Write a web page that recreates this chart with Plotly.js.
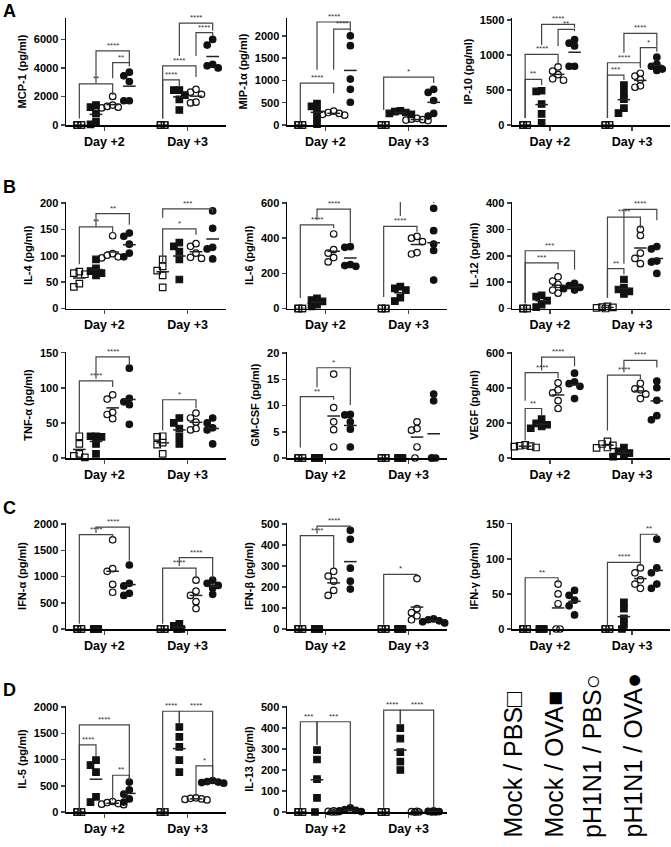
<!DOCTYPE html>
<html>
<head>
<meta charset="utf-8">
<script src="https://cdn.plot.ly/plotly-3.0.1.min.js"></script>
<style>
  body { margin: 0; background: #fff; }
  #chart { width: 671px; height: 847px; }
</style>
</head>
<body>
<div id="chart"></div>
<script>
// groups (same order on both days) and day ticks
const groupNames = ["Mock / PBS", "Mock / OVA", "pH1N1 / PBS", "pH1N1 / OVA"];
const dayLabels = ["Day +2", "Day +3"];

// values: 4 groups on day +2, then 4 groups on day +3
const mcp1 = [[0,0,0,0,0],[1400,1250,820,230,50],[2000,1400,1300,1250,1200],[3700,3450,3050,1700,1700],
              [0,0,0,0,0],[2450,2450,2100,1800,1050],[2500,2300,2150,1600,1550],[6000,5600,4250,4150,4000]];
const mip1a = [[0,0,0,0,0],[480,420,330,170,20],[310,280,260,240,220],[2000,1780,1030,800,510],
               [0,0,0,0,0],[320,300,280,260,240],[150,130,120,110,100],[800,730,550,260,200]];
const ip10 = [[0,0,0,0,0],[490,480,300,160,30],[830,770,720,660,640],[1220,1170,1130,840,840],
              [0,0,0,0,0],[570,460,370,240,170],[740,700,650,560,540],[970,870,840,800,780]];
const il4 = [[70,67,65,47,41],[93,76,71,67,63],[138,104,101,98,96],[143,137,122,105,98],
             [93,80,72,63,40],[125,118,108,93,55],[123,118,105,97,95],[185,152,116,113,94]];
const il6 = [[0,0,0,0,0],[58,48,40,22,12],[424,335,315,290,265],[352,348,250,244,240],
             [0,0,0,0,0],[124,115,105,62,42],[410,400,380,318,310],[570,443,367,330,162]];
const il12 = [[0,0,0,0,0],[50,45,30,15,5],[120,104,91,70,58],[95,87,80,75,70],
              [8,5,4,2,0],[110,78,72,65,55],[300,277,210,190,170],[235,226,180,176,133]];
const tnfa = [[31,20,6,3,1],[31,31,30,20,6],[90,84,65,62,56],[128,85,80,76,48],
              [31,30,22,19,6],[57,50,42,31,20],[64,57,51,42,40],[57,50,43,40,20]];
const gmcsf = [[0,0,0,0,0],[0,0,0,0,0],[16,9.6,6.9,5.4,2.1],[8.3,8.2,6.9,5.5,2.1],
               [0,0,0,0,0],[0,0,0,0,0],[6.9,5.6,5.3,2.1,0],[12.2,10.9,0,0,0]];
const vegf = [[75,70,68,65,60],[222,198,190,180,170],[430,390,372,328,283],[485,435,425,410,340],
              [95,80,72,60,58],[60,38,28,18,8],[427,395,390,365,340],[440,402,330,242,218]];
const ifna = [[0,0,0,0,0],[0,0,0,0,0],[1700,1150,1100,850,700],[1220,870,820,680,640],
              [0,0,0,0,0],[100,60,0,0,0],[930,720,640,520,390],[930,870,830,780,660]];
const ifnb = [[0,0,0,0,0],[0,0,0,0,0],[275,252,228,184,160],[470,427,290,228,190],
              [0,0,0,0,0],[0,0,0,0,0],[240,97,78,63,44],[48,44,39,34,29]];
const ifng = [[0,0,0,0,0],[0,0,0,0,0],[64,50,36,0,0],[55,48,41,33,20],
              [0,0,0,0,0],[38,29,15,6,0],[87,80,70,64,58],[128,87,80,64,58]];
const il5 = [[0,0,0,0,0],[990,895,760,290,190],[200,180,160,150,140],[570,420,340,250,190],
             [0,0,0,0,0],[1620,1430,1240,990,760],[270,260,250,240,230],[600,580,570,560,550]];
const il13 = [[0,0,0,0,0],[295,250,157,67,0],[5,3,2,0,0],[20,12,8,5,2],
              [0,0,0,0,0],[400,350,285,240,200],[3,2,0,0,0],[5,3,2,0,0]];

// significance brackets: [from group, to group, bar level, left leg end, right leg end, stars]
const mcp1Sig = [[1,3,2880,450,2100,"**"],[2,4,5200,2950,4330,"****"],[3,4,4370,3280,4100,"**"],
                 [6,8,4140,450,3370,"****"],[6,7,3160,450,2670,"****"],[7,9,7140,4840,6600,"****"],[8,9,6480,4840,6250,"****"]];
const mip1aSig = [[2,4,2310,1240,2160,"****"],[3,4,2150,1240,2100,"****"],[1,3,940,70,713,"****"],[6,9,1073,337,940,"*"]];
const ip10Sig = [[2,4,1439,1143,1390,"****"],[3,4,1367,1129,1340,"**"],[1,3,1010,100,857,"****"],[1,2,653,100,571,"**"],
                 [7,9,1310,1034,1120,"****"],[6,8,890,100,814,"****"],[8,9,1105,843,1048,"*"],[6,7,714,100,643,"***"]];
const il4Sig = [[1,3,155,84,144,"**"],[2,4,180,155,159,"**"],[6,9,189,172,182,"***"],[6,8,151,84,140,"*"]];
const il6Sig = [[2,4,565,504,375,"****"],[1,3,476,60,457,"****"],[7,9,618,527,600,"****"],[6,8,467,66,437,"****"]];
const il12Sig = [[1,4,219,20,147,"***"],[1,3,173,20,148,"***"],[6,8,347,41,304,"****"],[7,9,376,170,335,"****"],[6,7,151,41,129,"**"]];
const tnfaSig = [[1,3,110,35,101,"****"],[2,4,144,113,134,"****"],[6,8,83,39,71,"*"]];
const gmcsfSig = [[2,4,17.2,13.5,10.1,"*"],[1,3,11.7,2,11.1,"**"]];
const vegfSig = [[2,4,577,500,525,"****"],[1,3,488,327,456,"****"],[1,2,283,100,242,"**"],[7,9,558,490,517,"****"],[6,8,474,157,451,"****"]];
const ifnaSig = [[1,3,1800,100,1750,"****"],[2,4,1940,1830,1300,"****"],[6,8,1160,100,960,"****"],[7,9,1360,1200,960,"****"]];
const ifnbSig = [[1,3,445,20,290,"****"],[2,4,490,455,480,"****"],[6,8,260,20,250,"*"]];
const ifngSig = [[1,3,73,3,66,"**"],[6,8,95,3,90,"****"],[8,9,135,93,131,"**"]];
const il5Sig = [[1,4,1660,20,650,"****"],[1,2,1280,20,1050,"****"],[3,4,700,220,600,"**"],[6,7,1920,20,1700,"****"],[7,9,1920,1700,650,"****"],[8,9,880,300,650,"*"]];
const il13Sig = [[1,2,430,20,320,"***"],[2,4,430,320,30,"***"],[6,7,485,20,420,"****"],[7,9,485,420,20,"****"]];

const W = 671, H = 847;
const cols = [[66, 226], [287, 447], [512, 670]];
const rows = { A: [18, 125], B1: [202, 308.5], B2: [352, 458], C: [523, 629], D: [706, 812] };

const panels = [
  { title: "MCP-1 (pg/ml)", vals: mcp1, sig: mcp1Sig, ymax: 7500, dtick: 2000, col: 0, row: "A" },
  { title: "MIP-1α (pg/ml)", vals: mip1a, sig: mip1aSig, ymax: 2400, dtick: 500, col: 1, row: "A" },
  { title: "IP-10 (pg/ml)", vals: ip10, sig: ip10Sig, ymax: 1530, dtick: 500, col: 2, row: "A" },
  { title: "IL-4 (pg/ml)", vals: il4, sig: il4Sig, ymax: 202, dtick: 50, col: 0, row: "B1" },
  { title: "IL-6 (pg/ml)", vals: il6, sig: il6Sig, ymax: 606, dtick: 200, col: 1, row: "B1" },
  { title: "IL-12 (pg/ml)", vals: il12, sig: il12Sig, ymax: 404, dtick: 100, col: 2, row: "B1" },
  { title: "TNF-α (pg/ml)", vals: tnfa, sig: tnfaSig, ymax: 151, dtick: 50, col: 0, row: "B2" },
  { title: "GM-CSF (pg/ml)", vals: gmcsf, sig: gmcsfSig, ymax: 20.2, dtick: 5, col: 1, row: "B2" },
  { title: "VEGF (pg/ml)", vals: vegf, sig: vegfSig, ymax: 606, dtick: 200, col: 2, row: "B2" },
  { title: "IFN-α (pg/ml)", vals: ifna, sig: ifnaSig, ymax: 2020, dtick: 500, col: 0, row: "C" },
  { title: "IFN-β (pg/ml)", vals: ifnb, sig: ifnbSig, ymax: 505, dtick: 100, col: 1, row: "C" },
  { title: "IFN-γ (pg/ml)", vals: ifng, sig: ifngSig, ymax: 151, dtick: 50, col: 2, row: "C" },
  { title: "IL-5 (pg/ml)", vals: il5, sig: il5Sig, ymax: 2020, dtick: 500, col: 0, row: "D" },
  { title: "IL-13 (pg/ml)", vals: il13, sig: il13Sig, ymax: 505, dtick: 100, col: 1, row: "D" }
];

const groupX = [1, 2, 3, 4, 6, 7, 8, 9];
const symbols = ["square-open", "square", "circle-open", "circle"];
const FONT = "Arial, 'Liberation Sans', sans-serif";

// simple beeswarm: push a point sideways when it would sit on top of another
function swarm(vals, tol) {
  const placed = [];
  const steps = [0, -0.33, 0.33, -0.66, 0.66, -0.99, 0.99];
  return vals.map((v, k) => {
    if (v === 0) return k % 2 ? 0.12 : -0.12;
    for (const s of steps) {
      const hit = placed.some(p => Math.abs(p.v - v) < tol && Math.abs(p.dx - s) < 0.3);
      if (!hit) { placed.push({ v: v, dx: s }); return s; }
    }
    return 0;
  });
}

const data = [];
const annotations = [];
const layout = {
  width: W, height: H,
  margin: { l: 0, r: 0, t: 0, b: 0 },
  paper_bgcolor: "#fff", plot_bgcolor: "#fff",
  showlegend: false,
  font: { family: FONT, color: "#000" }
};

panels.forEach((p, i) => {
  const n = i + 1;
  const sfx = n === 1 ? "" : String(n);
  const xa = "x" + sfx, ya = "y" + sfx;
  const [top, bottom] = rows[p.row];
  const [left, right] = cols[p.col];
  const tol = 6 * p.ymax / (bottom - top);

  p.vals.forEach((vals, g) => {
    const offs = swarm(vals, tol);
    data.push({
      type: "scatter", mode: "markers", xaxis: xa, yaxis: ya,
      x: vals.map((v, k) => groupX[g] + offs[k]), y: vals,
      name: groupNames[g % 4], cliponaxis: false, hoverinfo: "skip",
      marker: { symbol: symbols[g % 4], size: 6.5, color: "#111", line: { width: 1.2, color: "#111" } }
    });
  });

  // mean lines
  const mx = [], my = [];
  p.vals.forEach((vals, g) => {
    const m = vals.reduce((a, b) => a + b, 0) / vals.length;
    mx.push(groupX[g] - 0.38, groupX[g] + 0.38, null);
    my.push(m, m, null);
  });
  data.push({ type: "scatter", mode: "lines", xaxis: xa, yaxis: ya, x: mx, y: my,
    cliponaxis: false, hoverinfo: "skip", line: { color: "#222", width: 1.5 } });

  // brackets
  const bx = [], by = [];
  p.sig.forEach(([a, b, y, yl, yr, label]) => {
    bx.push(a, a, b, b, null);
    by.push(yl, y, y, yr, null);
    annotations.push({ xref: xa, yref: ya, x: (a + b) / 2, y: y, text: label, showarrow: false,
      yanchor: "bottom", xanchor: "center", yshift: -1, font: { size: 8, color: "#333", family: FONT } });
  });
  data.push({ type: "scatter", mode: "lines", xaxis: xa, yaxis: ya, x: bx, y: by,
    cliponaxis: false, hoverinfo: "skip", line: { color: "#444", width: 1.2 } });

  layout["xaxis" + sfx] = {
    domain: [left / W, right / W], anchor: ya, range: [0.2, 9.8],
    tickvals: [2.5, 7.5], ticktext: dayLabels, ticks: "outside", ticklen: 4, tickwidth: 1.5,
    showline: true, linewidth: 1.5, linecolor: "#000", showgrid: false, zeroline: false,
    tickfont: { family: FONT, size: 12.5, weight: "bold", color: "#000" }
  };
  layout["yaxis" + sfx] = {
    domain: [1 - bottom / H, 1 - top / H], anchor: xa, range: [0, p.ymax],
    tick0: 0, dtick: p.dtick, ticks: "outside", ticklen: 4, tickwidth: 1.5,
    showline: true, linewidth: 1.5, linecolor: "#000", showgrid: false, zeroline: false,
    tickfont: { family: FONT, size: 11, weight: "bold", color: "#000" },
    title: { text: p.title, standoff: 5, font: { family: FONT, size: 11, weight: "bold", color: "#000" } }
  };
});

// panel letters
[["A", 11], ["B", 187], ["C", 508], ["D", 690]].forEach(([t, y]) => {
  annotations.push({ xref: "paper", yref: "paper", x: 9 / W, y: 1 - y / H, text: t, showarrow: false,
    xanchor: "center", yanchor: "middle", font: { family: FONT, size: 18, weight: "bold", color: "#000" } });
});

// legend written sideways
const legendMarks = ["□", "■", "○", "●"];
const legendX = [512, 553, 592, 632];
groupNames.forEach((g, i) => {
  annotations.push({ xref: "paper", yref: "paper", x: legendX[i] / W, y: 1 - 840 / H,
    text: g + legendMarks[i], showarrow: false, textangle: -90, xanchor: "center", yanchor: "bottom",
    font: { family: FONT, size: 25, color: "#000" } });
});

layout.annotations = annotations;
Plotly.newPlot("chart", data, layout, { staticPlot: true });
</script>
</body>
</html>
